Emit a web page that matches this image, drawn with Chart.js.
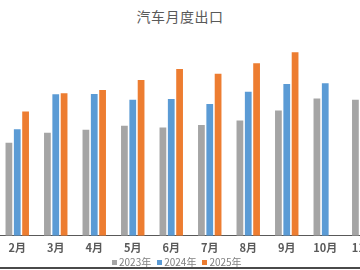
<!DOCTYPE html>
<html>
<head>
<meta charset="utf-8">
<script src="https://cdn.jsdelivr.net/npm/chart.js@4/dist/chart.umd.min.js"></script>
<style>
  html, body { margin: 0; padding: 0; background: #fff; }
  body { width: 360px; height: 270px; position: relative; overflow: hidden;
         font-family: "Noto Sans CJK SC", "Noto Sans", sans-serif; }
  #title { position: absolute; top: 6px; left: 0; width: 360px; text-align: center;
           font-size: 14px; color: #595959; letter-spacing: 0.5px; }
  #plot { position: absolute; left: -2px; top: 0; width: 385px; height: 259px; }
  #legend { position: absolute; top: 255px; left: 112px; display: flex;
            font-size: 10px; color: #808080; line-height: 14px; }
  #legend span.item { display: flex; align-items: center; margin-right: 6px; }
  #legend span.box { width: 5px; height: 5px; margin-right: 2px; }
  #frame { position: absolute; left: 0; top: 267px; width: 360px; height: 2px; background: #4a4a4a; }
</style>
</head>
<body>
<div id="title"></div>
<div id="plot"><canvas id="chart"></canvas></div>
<div id="legend"></div>
<div id="frame"></div>
<script>
// 汽车月度出口 (万辆)
const chartTitle = '汽车月度出口';
const months = ['2月', '3月', '4月', '5月', '6月', '7月', '8月', '9月', '10月', '11月'];
const seriesNames = ['2023年', '2024年', '2025年'];
const seriesColors = ['#A5A5A5', '#5B9BD5', '#ED7D31'];
const exports2023 = [33.3, 36.8, 37.9, 39.3, 38.7, 39.6, 41.2, 44.8, 49.1, 48.6];
const exports2024 = [38.1, 50.6, 50.7, 48.6, 48.9, 47.1, 51.5, 54.3, 54.5, null];
const exports2025 = [44.4, 51.0, 52.1, 55.7, 59.6, 57.9, 61.7, 65.6, null, null];
const yMax = 70;

document.getElementById('title').textContent = chartTitle;

const seriesValues = [exports2023, exports2024, exports2025];
const datasets = seriesNames.map((name, i) => ({
    label: name,
    data: seriesValues[i],
    backgroundColor: seriesColors[i],
    borderWidth: 0,
    barPercentage: 0.81,
    categoryPercentage: 0.65
}));

// legend as plain text next to coloured boxes
const legend = document.getElementById('legend');
seriesNames.forEach((name, i) => {
    const item = document.createElement('span');
    item.className = 'item';
    item.innerHTML = `<span class="box" style="background:${seriesColors[i]}"></span>${name}`;
    legend.appendChild(item);
});

new Chart(document.getElementById('chart'), {
    type: 'bar',
    data: { labels: months, datasets: datasets },
    options: {
        responsive: true,
        maintainAspectRatio: false,
        animation: false,
        devicePixelRatio: 1,
        layout: { padding: { top: 40, left: 0, right: 0, bottom: 0 } },
        plugins: {
            legend: { display: false },
            title: { display: false },
            tooltip: { enabled: false }
        },
        scales: {
            x: {
                grid: { display: false, drawTicks: false },
                border: { display: true, color: '#595959', width: 1 },
                ticks: {
                    color: '#595959',
                    padding: 5,
                    autoSkip: false,
                    maxRotation: 0,
                    font: { family: '"Noto Sans CJK SC", sans-serif', size: 11, weight: 'bold' }
                }
            },
            y: {
                display: false,
                min: 0,
                max: yMax
            }
        }
    }
});
</script>
</body>
</html>
